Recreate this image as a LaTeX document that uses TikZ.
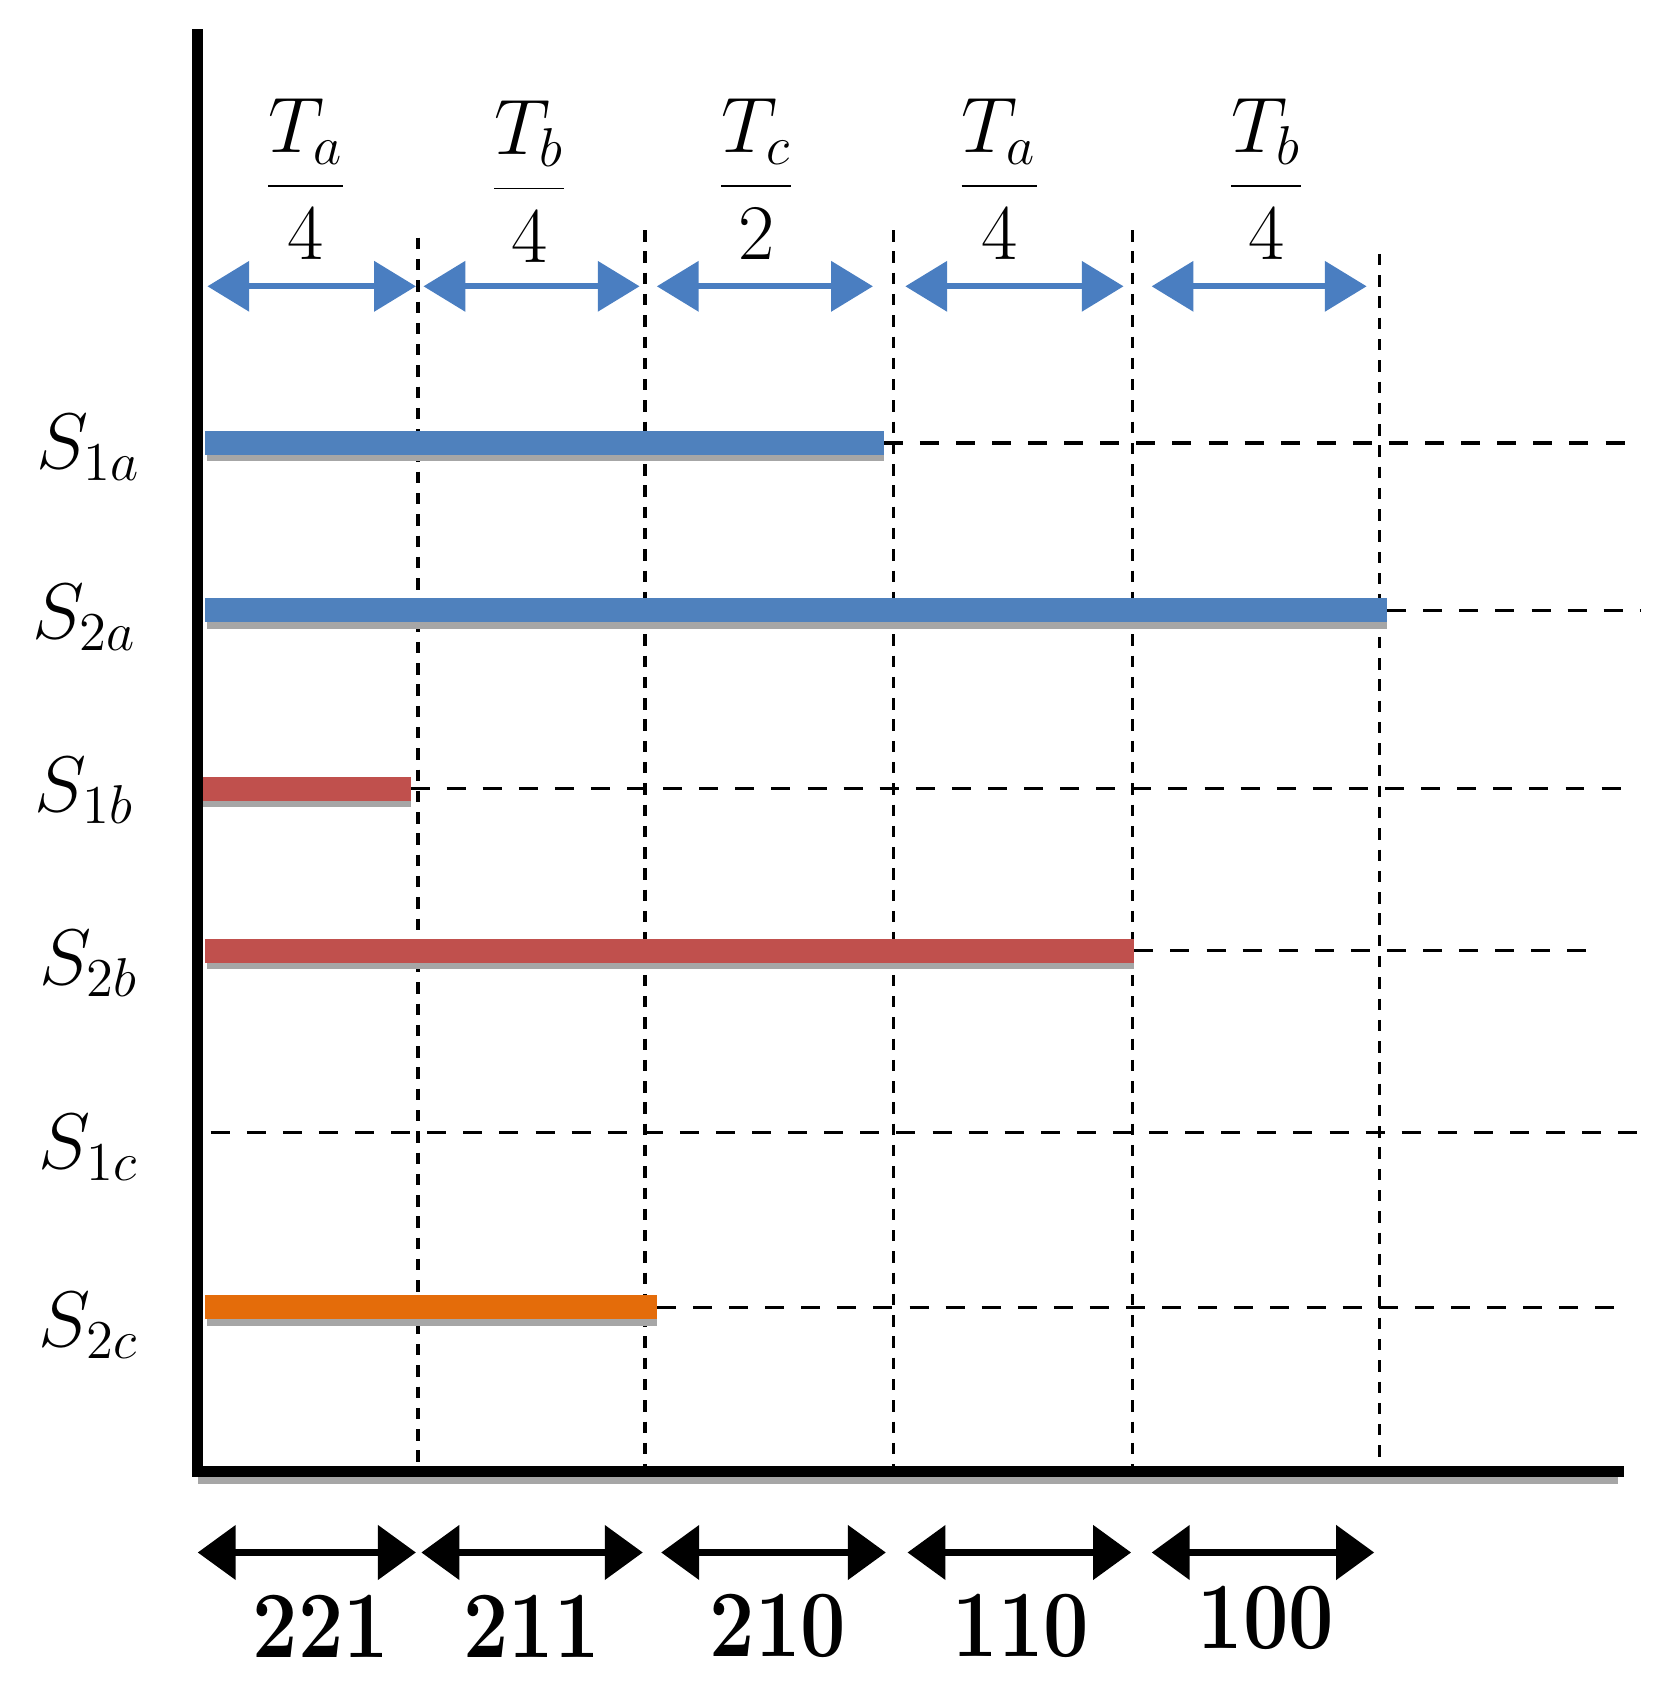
\documentclass[tikz,border=0pt]{standalone}
\usetikzlibrary{arrows.meta}
\definecolor{barblue}{HTML}{4F81BD}
\definecolor{barred}{HTML}{C0504D}
\definecolor{barorange}{HTML}{E46C0A}
\definecolor{arrblue}{HTML}{4A7EC1}
\begin{document}
\begin{tikzpicture}[x=0.01cm,y=-0.01cm,
  axisline/.style={line width=2.9pt,black,line cap=rect},
  vgrid/.style={line width=0.85pt,black,dash pattern=on 3pt off 2.6pt},
  hgrid/.style={line width=0.85pt,black,dash pattern=on 5pt off 4.5pt},
  bar/.style={line width=6.3pt,line cap=butt},
  barshadow/.style={line width=6.3pt,line cap=butt,black!35},
  bluearr/.style={line width=1.5pt,arrblue,{Triangle[length=11pt,width=13pt]}-{Triangle[length=11pt,width=13pt]}},
  blackarr/.style={line width=1.9pt,black,{Triangle[length=10pt,width=14pt]}-{Triangle[length=10pt,width=14pt]}},
  fraclbl/.style={inner sep=0pt,font=\fontsize{21}{25}\selectfont},
  numlbl/.style={inner sep=0pt,font=\fontsize{25}{28}\selectfont\bfseries},
  slbl/.style={inner sep=0pt,font=\fontsize{20}{24}\selectfont}]
\useasboundingbox (0,0) rectangle (1544,1568);

% vertical dashed grid lines
\coordinate (v1t) at (387,220); \coordinate (v1b) at (387,1362);
\coordinate (v2t) at (597,213); \coordinate (v2b) at (597,1362);
\coordinate (v3t) at (827,213); \coordinate (v3b) at (827,1362);
\coordinate (v4t) at (1048,213); \coordinate (v4b) at (1048,1362);
\coordinate (v5t) at (1277,235); \coordinate (v5b) at (1277,1362);
\foreach \i in {1,...,5} \draw[vgrid] (v\i t) -- (v\i b);

% rows: bars and dashed continuations
\coordinate (r1s) at (190,410); \coordinate (r1m) at (818,410); \coordinate (r1e) at (1515,410);
\coordinate (r2s) at (190,565); \coordinate (r2m) at (1284,565); \coordinate (r2e) at (1518,565);
\coordinate (r3s) at (186,730); \coordinate (r3m) at (380,730); \coordinate (r3e) at (1500,730);
\coordinate (r4s) at (190,880); \coordinate (r4m) at (1050,880); \coordinate (r4e) at (1482,880);
\coordinate (r5s) at (195,1048); \coordinate (r5e) at (1525,1048);
\coordinate (r6s) at (190,1210); \coordinate (r6m) at (608,1210); \coordinate (r6e) at (1508,1210);

\draw[hgrid] (r1m) -- (r1e);
\draw[hgrid] (r2m) -- (r2e);
\draw[hgrid] (r3m) -- (r3e);
\draw[hgrid] (r4m) -- (r4e);
\draw[hgrid] (r5s) -- (r5e);
\draw[hgrid] (r6m) -- (r6e);

\draw[barshadow] ([shift={(2,6)}]r1s) -- ([shift={(0,6)}]r1m);
\draw[barshadow] ([shift={(2,6)}]r2s) -- ([shift={(0,6)}]r2m);
\draw[barshadow] ([shift={(2,6)}]r3s) -- ([shift={(0,6)}]r3m);
\draw[barshadow] ([shift={(2,6)}]r4s) -- ([shift={(0,6)}]r4m);
\draw[barshadow] ([shift={(2,6)}]r6s) -- ([shift={(0,6)}]r6m);
\draw[bar,barblue] (r1s) -- (r1m);
\draw[bar,barblue] (r2s) -- (r2m);
\draw[bar,barred] (r3s) -- (r3m);
\draw[bar,barred] (r4s) -- (r4m);
\draw[bar,barorange] (r6s) -- (r6m);

% axes
\coordinate (ytop) at (183,32);
\coordinate (orig) at (183,1362);
\coordinate (xend) at (1498,1362);
\draw[line width=3pt,black!35] ([shift={(0,6)}]orig) -- ([shift={(0,6)}]xend);
\draw[axisline] (ytop) -- (orig) -- (xend);

% top blue interval arrows
\coordinate (ta0) at (192,265); \coordinate (ta1) at (385,265);
\coordinate (tb0) at (392,265); \coordinate (tb1) at (592,265);
\coordinate (tc0) at (608,265); \coordinate (tc1) at (808,265);
\coordinate (td0) at (838,265); \coordinate (td1) at (1040,265);
\coordinate (te0) at (1066,265); \coordinate (te1) at (1265,265);
\draw[bluearr] (ta0) -- (ta1);
\draw[bluearr] (tb0) -- (tb1);
\draw[bluearr] (tc0) -- (tc1);
\draw[bluearr] (td0) -- (td1);
\draw[bluearr] (te0) -- (te1);

\node[fraclbl] (f1) at (283,166) {$\displaystyle\frac{T_a}{4}$};
\node[fraclbl] (f2) at (490,168) {$\displaystyle\frac{T_b}{4}$};
\node[fraclbl] (f3) at (700,166) {$\displaystyle\frac{T_c}{2}$};
\node[fraclbl] (f4) at (925,166) {$\displaystyle\frac{T_a}{4}$};
\node[fraclbl] (f5) at (1172,166) {$\displaystyle\frac{T_b}{4}$};

% bottom black interval arrows
\coordinate (ba0) at (183,1437); \coordinate (ba1) at (385,1437);
\coordinate (bb0) at (390,1437); \coordinate (bb1) at (595,1437);
\coordinate (bc0) at (612,1437); \coordinate (bc1) at (820,1437);
\coordinate (bd0) at (840,1437); \coordinate (bd1) at (1047,1437);
\coordinate (be0) at (1066,1437); \coordinate (be1) at (1272,1437);
\draw[blackarr] (ba0) -- (ba1);
\draw[blackarr] (bb0) -- (bb1);
\draw[blackarr] (bc0) -- (bc1);
\draw[blackarr] (bd0) -- (bd1);
\draw[blackarr] (be0) -- (be1);

\node[numlbl] (n1) at (297,1505) {\scalebox{0.85}[1]{221}};
\node[numlbl] (n2) at (492,1505) {\scalebox{0.85}[1]{211}};
\node[numlbl] (n3) at (720,1505) {\scalebox{0.85}[1]{210}};
\node[numlbl] (n4) at (945,1505) {\scalebox{0.85}[1]{110}};
\node[numlbl] (n5) at (1172,1498) {\scalebox{0.85}[1]{100}};

% row labels
\node[slbl] (s1) at (82,414) {$S_{1a}$};
\node[slbl] (s2) at (78,572) {$S_{2a}$};
\node[slbl] (s3) at (78,732) {$S_{1b}$};
\node[slbl] (s4) at (82,892) {$S_{2b}$};
\node[slbl] (s5) at (82,1062) {$S_{1c}$};
\node[slbl] (s6) at (82,1227) {$S_{2c}$};
\end{tikzpicture}
\end{document}
